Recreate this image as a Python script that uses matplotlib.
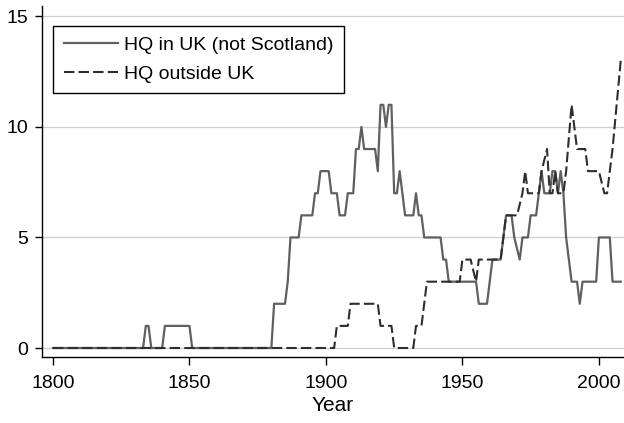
import matplotlib
matplotlib.use("Agg")
import matplotlib.pyplot as plt

# --- DATA (corner points; lines run straight between them) ---
uk_years = [1800, 1833, 1834, 1835, 1836, 1840, 1841, 1850, 1851, 1880, 1881, 1885,
            1886, 1887, 1890, 1891, 1895, 1896, 1897, 1898, 1901, 1902, 1904, 1905,
            1907, 1908, 1910, 1911, 1912, 1913, 1914, 1918, 1919, 1920, 1921, 1922,
            1923, 1924, 1925, 1926, 1927, 1928, 1929, 1932, 1933, 1934, 1935, 1936,
            1942, 1943, 1944, 1945, 1955, 1956, 1959, 1960, 1961, 1964, 1965, 1966,
            1968, 1969, 1971, 1972, 1974, 1975, 1977, 1978, 1979, 1980, 1982, 1983,
            1984, 1985, 1986, 1987, 1988, 1989, 1990, 1992, 1993, 1994, 1999, 2000,
            2004, 2005, 2008]
uk_counts = [0, 0, 1, 1, 0, 0, 1, 1, 0, 0, 2, 2,
             3, 5, 5, 6, 6, 7, 7, 8, 8, 7, 7, 6,
             6, 7, 7, 9, 9, 10, 9, 9, 8, 11, 11, 10,
             11, 11, 7, 7, 8, 7, 6, 6, 7, 6, 6, 5,
             5, 4, 4, 3, 3, 2, 2, 3, 4, 4, 5, 6,
             6, 5, 4, 5, 5, 6, 6, 7, 8, 7, 7, 8,
             8, 7, 8, 7, 5, 4, 3, 3, 2, 3, 3, 5,
             5, 3, 3]

outside_years = [1800, 1903, 1904, 1908, 1909, 1919, 1920, 1924, 1925, 1932, 1933,
                 1935, 1937, 1949, 1950, 1953, 1955, 1956, 1964, 1965, 1966, 1970,
                 1972, 1973, 1974, 1978, 1979, 1981, 1982, 1983, 1984, 1985, 1987,
                 1988, 1990, 1992, 1995, 1996, 2000, 2002, 2003, 2005, 2008]
outside_counts = [0, 0, 1, 1, 2, 2, 1, 1, 0, 0, 1,
                  1, 3, 3, 4, 4, 3, 4, 4, 5, 6, 6,
                  7, 8, 7, 7, 8, 9, 7, 7, 8, 7, 7,
                  8, 11, 9, 9, 8, 8, 7, 7, 9, 13]

x_ticks = [1800, 1850, 1900, 1950, 2000]
y_ticks = [0, 5, 10, 15]

# --- PLOT ---
plt.rcParams["font.family"] = ["Liberation Sans", "DejaVu Sans"]

fig = plt.figure(figsize=(6.24, 4.23), dpi=100)
ax = fig.add_axes([42 / 624, 66 / 423, 582 / 624, 351 / 423])

ax.plot(uk_years, uk_counts, color="#606060", lw=1.6,
        label="HQ in UK (not Scotland)", zorder=3)
ax.plot(outside_years, outside_counts, color="#2e2e2e", lw=1.5,
        linestyle=(0, (5, 2)), label="HQ outside UK", zorder=3)

ax.set_xlim(1795.97, 2009.2)
ax.set_ylim(-0.407, 15.47)
ax.set_xticks(x_ticks)
ax.set_yticks(y_ticks)
ax.yaxis.grid(True, color="#cfcfcf", lw=0.9)
ax.set_axisbelow(True)

for side in ["top", "right"]:
    ax.spines[side].set_visible(False)
for side in ["left", "bottom"]:
    ax.spines[side].set_linewidth(1.0)

ax.tick_params(axis="x", length=6, width=1.0, pad=7, labelsize=14)
ax.tick_params(axis="y", length=5, width=1.0, pad=5, labelsize=14)
ax.set_xlabel("Year", fontsize=15, labelpad=3)

leg = ax.legend(loc="upper left", bbox_to_anchor=(53 / 624, 1 - 26 / 423),
                bbox_transform=fig.transFigure, borderaxespad=0,
                fontsize=14, handlelength=2.8, handletextpad=0.3,
                borderpad=0.55, labelspacing=0.55, fancybox=False,
                framealpha=1)
leg.get_frame().set_edgecolor("black")
leg.get_frame().set_linewidth(1.0)

fig.savefig("out.png", dpi=100)
